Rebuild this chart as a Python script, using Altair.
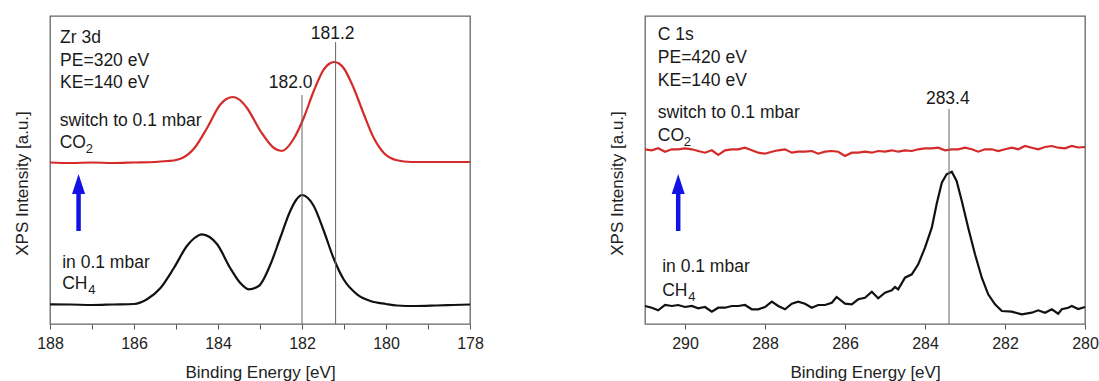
import altair as alt
import pandas as pd

FONT = "Liberation Sans"
RED = "#d42a2a"
BLACK = "#111111"
BLUE = "#1212e6"
GRAY = "#666666"

# ---------------- Zr 3d panel ----------------
zr_red_E = [188.0, 187.5, 187.0, 186.5, 186.0, 185.5, 185.2, 185.0, 184.85, 184.56, 184.26, 183.94,
            183.8, 183.64, 183.48, 183.31, 182.99, 182.67, 182.48, 182.2, 181.96, 181.72, 181.48,
            181.36, 181.23, 181.12, 181.01, 180.77, 180.53, 180.29, 180.05, 179.74, 179.4, 179.0,
            178.5, 178.0]
zr_red_I = [161.5, 161.0, 161.5, 161.0, 161.5, 162.0, 163.0, 164.0, 166.0, 176.0, 196.0, 219.7,
            225.0, 227.0, 224.0, 216.0, 193.0, 176.0, 173.0, 185.0, 206.0, 233.0, 254.7,
            260.0, 262.0, 260.5, 256.0, 236.0, 210.0, 186.0, 171.0, 163.7, 162.0, 162.0,
            162.0, 162.0]

zr_blk_E = [188.0, 187.5, 187.0, 186.5, 186.0, 185.69, 185.37, 185.05, 184.74, 184.56, 184.38,
            184.2, 184.02, 183.71, 183.47, 183.27, 183.03, 182.75, 182.52, 182.28, 182.14, 182.0,
            181.86, 181.72, 181.48, 181.25, 181.01, 180.69, 180.37, 180.0, 179.74, 179.3, 178.8,
            178.4, 178.0]
zr_blk_I = [19.7, 19.5, 19.0, 19.5, 20.0, 24.7, 36.0, 56.0, 78.0, 86.0, 89.7,
            87.0, 79.7, 56.0, 41.0, 34.7, 38.0, 59.7, 86.0, 113.0, 124.0, 129.0,
            126.0, 118.0, 93.0, 66.0, 44.7, 29.7, 23.0, 20.0, 18.5, 18.0, 18.5,
            19.0, 19.5]

zr_text = ["Zr 3d", "PE=320 eV", "KE=140 eV", "switch to 0.1 mbar", "CO", "in 0.1 mbar", "CH"]
zr_text_E = [187.76, 187.76, 187.76, 187.77, 187.77, 187.71, 187.71]
zr_text_I = [280.7, 258.0, 236.0, 198.0, 176.3, 55.7, 34.7]
zr_sub = ["2", "4"]
zr_sub_E = [187.77, 187.71]
zr_sub_I = [176.3, 34.7]
zr_peak_lbl = ["182.0", "181.2"]
zr_peak_lbl_E = [182.27, 181.27]
zr_peak_lbl_I = [236.3, 284.7]
zr_vline_E = [182.0, 181.2]
zr_vline_top = [229.0, 282.0]
zr_arrow_E = 187.32

# ---------------- C 1s panel ----------------
c_red_E = [291.00, 290.83, 290.67, 290.50, 290.33, 290.17, 290.00, 289.83, 289.67, 289.50,
           289.33, 289.17, 289.00, 288.83, 288.67, 288.50, 288.33, 288.17, 288.00, 287.83,
           287.67, 287.50, 287.33, 287.17, 287.00, 286.83, 286.67, 286.50, 286.33, 286.17,
           286.00, 285.83, 285.67, 285.50, 285.33, 285.17, 285.00, 284.83, 284.67, 284.50,
           284.33, 284.17, 284.00, 283.83, 283.67, 283.50, 283.33, 283.17, 283.00, 282.83,
           282.67, 282.50, 282.33, 282.17, 282.00, 281.83, 281.67, 281.50, 281.33, 281.17,
           281.00, 280.83, 280.67, 280.50, 280.33, 280.17, 280.00]
c_red_I = [174.7, 173.7, 175.7, 172.3, 174.7, 174.7, 175.7, 174.7, 173.0, 171.3,
           173.7, 169.0, 173.7, 174.7, 174.7, 176.3, 173.7, 171.3, 170.3, 172.3,
           173.7, 174.7, 171.3, 172.3, 172.3, 173.0, 170.3, 172.3, 173.0, 172.3,
           168.0, 171.3, 171.3, 172.3, 171.3, 173.0, 172.3, 173.7, 172.3, 173.7,
           173.0, 174.7, 175.7, 175.7, 176.3, 173.7, 174.7, 174.7, 176.3, 174.7,
           172.3, 174.7, 174.7, 173.0, 174.7, 176.3, 174.7, 178.0, 176.3, 174.7,
           177.0, 178.0, 176.3, 175.7, 178.0, 176.5, 177.0]

c_blk_E = [291.00, 290.83, 290.67, 290.50, 290.33, 290.17, 290.00, 289.83, 289.67, 289.50,
           289.33, 289.17, 289.00, 288.83, 288.67, 288.50, 288.33, 288.17, 288.00, 287.83,
           287.67, 287.50, 287.33, 287.17, 287.00, 286.83, 286.67, 286.50, 286.33, 286.21,
           286.00, 285.83, 285.67, 285.50, 285.33, 285.17, 285.00, 284.83, 284.75, 284.67,
           284.50, 284.33, 284.17, 284.00, 283.83, 283.71, 283.58, 283.46, 283.33, 283.21,
           283.08, 282.92, 282.75, 282.58, 282.42, 282.25, 282.08, 281.83, 281.58, 281.33,
           281.17, 281.00, 280.83, 280.67, 280.58, 280.42, 280.33, 280.17, 280.00]
c_blk_I = [18.0, 16.3, 13.7, 19.0, 18.0, 19.0, 17.0, 18.0, 15.7, 17.0,
           12.3, 16.3, 16.3, 18.0, 18.0, 19.0, 14.7, 14.7, 17.0, 22.3,
           18.0, 14.7, 20.3, 22.3, 20.3, 16.3, 19.0, 19.0, 21.3, 27.0,
           20.3, 19.7, 24.7, 26.3, 32.3, 25.7, 31.3, 33.7, 37.0, 34.7,
           46.3, 49.7, 59.7, 76.3, 96.3, 119.7, 141.3, 149.7, 152.3, 143.0,
           123.0, 96.3, 69.7, 46.3, 29.7, 19.7, 13.0, 12.3, 9.7, 11.3,
           13.7, 11.3, 14.7, 10.3, 14.7, 16.3, 18.0, 15.0, 17.0]

c_text = ["C 1s", "PE=420 eV", "KE=140 eV", "switch to 0.1 mbar", "CO", "in 0.1 mbar", "CH"]
c_text_E = [290.68, 290.68, 290.68, 290.68, 290.68, 290.57, 290.57]
c_text_I = [284.0, 261.0, 238.0, 206.0, 183.5, 52.0, 28.5]
c_sub = ["2", "4"]
c_sub_E = [290.68, 290.57]
c_sub_I = [183.5, 28.5]
c_peak_lbl = ["283.4"]
c_peak_lbl_E = [283.43]
c_peak_lbl_I = [220.0]
c_vline_E = [283.4]
c_vline_top = [215.0]
c_arrow_E = 290.17

# arrow geometry in intensity units (shared)
arrow_shaft = [93.0, 132.0]
arrow_head = 140.0

Y_DOMAIN = [0, 308]


def panel(red_E, red_I, blk_E, blk_I, texts, texts_E, texts_I, subs, subs_E, subs_I,
          plbl, plbl_E, plbl_I, vl_E, vl_top, arrow_E, xdom, width, interp):
    xscale = alt.Scale(domain=xdom, reverse=True, nice=False, zero=False)
    yscale = alt.Scale(domain=Y_DOMAIN, nice=False, zero=False)
    ticks = list(range(int(xdom[0]), int(xdom[1]) + 1))
    xaxis = alt.Axis(
        values=ticks, format="d",
        labelExpr="datum.value % 2 == 0 ? datum.label : ''",
        labelOverlap=False, labelFlush=False,
        tickSize=5, tickColor="#555555", tickWidth=1,
        labelFont=FONT, labelFontSize=16, labelColor="#222222",
        labelBaseline="alphabetic", labelPadding=19.5,
        title="Binding Energy [eV]", titleFont=FONT, titleFontSize=17,
        titleFontWeight="normal", titleColor="#222222",
        titleBaseline="alphabetic", titleY=53,
        domain=False, grid=False,
    )
    yaxis = alt.Axis(
        labels=False, ticks=False, domain=False, grid=False,
        title="XPS Intensity [a.u.]", titleFont=FONT, titleFontSize=17,
        titleFontWeight="normal", titleColor="#222222",
        titleAngle=270, titleBaseline="alphabetic", titleAlign="center",
        titleX=-22.5, titleY=167,
    )

    lines = pd.DataFrame({
        "E": red_E + blk_E,
        "I": red_I + blk_I,
        "s": ["CO2"] * len(red_E) + ["CH4"] * len(blk_E),
    })
    base_line = alt.Chart(lines).mark_line(strokeWidth=2.2, interpolate=interp).encode(
        x=alt.X("E:Q", scale=xscale, axis=xaxis, sort="descending"),
        y=alt.Y("I:Q", scale=yscale, axis=yaxis),
        color=alt.Color("s:N", scale=alt.Scale(domain=["CO2", "CH4"], range=[RED, BLACK]),
                        legend=None),
        detail="s:N",
    )

    vdf = pd.DataFrame({"E": vl_E, "y0": [0.0] * len(vl_E), "y1": vl_top})
    vrules = alt.Chart(vdf).mark_rule(color=GRAY, strokeWidth=1).encode(
        x="E:Q", y="y0:Q", y2="y1:Q")

    tdf = pd.DataFrame({"E": texts_E, "I": texts_I, "t": texts})
    txt = alt.Chart(tdf).mark_text(align="left", baseline="alphabetic", font=FONT,
                                   fontSize=17.5, color="#1a1a1a").encode(
        x="E:Q", y="I:Q", text="t:N")

    sdf = pd.DataFrame({"E": subs_E, "I": subs_I, "t": subs})
    sub = alt.Chart(sdf).mark_text(align="left", baseline="alphabetic", font=FONT,
                                   fontSize=13, color="#1a1a1a", dx=26, dy=5).encode(
        x="E:Q", y="I:Q", text="t:N")

    pdf = pd.DataFrame({"E": plbl_E, "I": plbl_I, "t": plbl})
    ptxt = alt.Chart(pdf).mark_text(align="center", baseline="alphabetic", font=FONT,
                                    fontSize=17.5, color="#1a1a1a").encode(
        x="E:Q", y="I:Q", text="t:N")

    adf = pd.DataFrame({"E": [arrow_E], "y0": [arrow_shaft[0]], "y1": [arrow_shaft[1]],
                        "h": [arrow_head]})
    shaft = alt.Chart(adf).mark_rule(color=BLUE, strokeWidth=4.5).encode(
        x="E:Q", y="y0:Q", y2="y1:Q")
    head = alt.Chart(adf).mark_point(shape="M0,-1L-0.65,1L0.65,1Z", size=400, filled=True,
                                     color=BLUE, opacity=1, strokeWidth=0).encode(
        x="E:Q", y="h:Q")

    return alt.layer(base_line, vrules, txt, sub, ptxt, shaft, head).properties(
        width=width, height=308)


left = panel(zr_red_E, zr_red_I, zr_blk_E, zr_blk_I, zr_text, zr_text_E, zr_text_I,
             zr_sub, zr_sub_E, zr_sub_I, zr_peak_lbl, zr_peak_lbl_E, zr_peak_lbl_I,
             zr_vline_E, zr_vline_top, zr_arrow_E, [178, 188], 420, "monotone")
right = panel(c_red_E, c_red_I, c_blk_E, c_blk_I, c_text, c_text_E, c_text_I,
              c_sub, c_sub_E, c_sub_I, c_peak_lbl, c_peak_lbl_E, c_peak_lbl_I,
              c_vline_E, c_vline_top, c_arrow_E, [280, 291], 440, "linear")

chart = alt.hconcat(left, right, spacing=175, bounds="flush").properties(
    padding={"left": 12, "top": 15, "right": 0, "bottom": 0},
    background="white",
).configure_view(stroke="#666666", strokeWidth=1.3)

chart.save("out.html", embed_options={"renderer": "svg", "actions": False})
